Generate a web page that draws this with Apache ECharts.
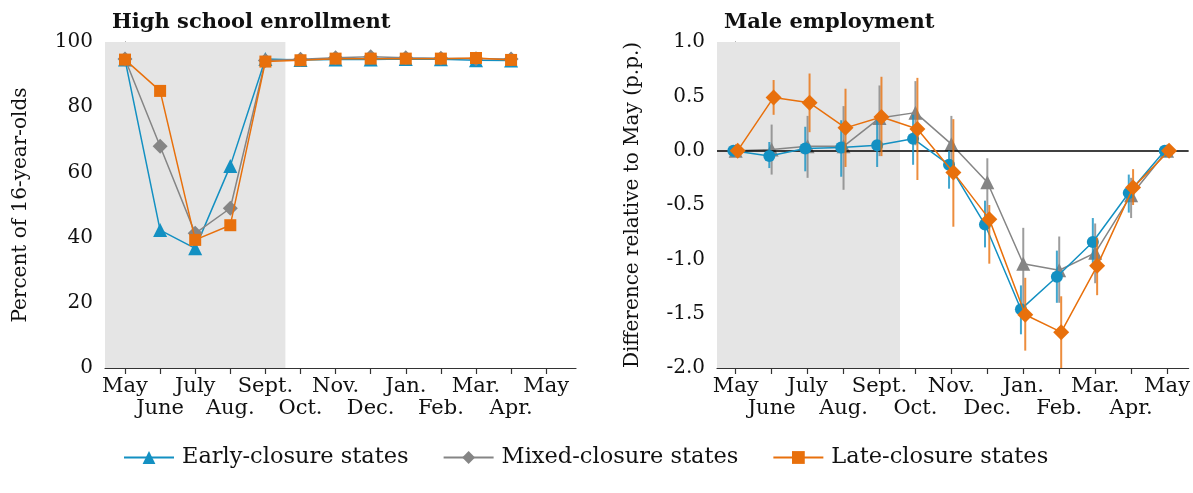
<!DOCTYPE html>
<html>
<head>
<meta charset="utf-8">
<script src="https://cdn.jsdelivr.net/npm/echarts@6/dist/echarts.min.js"></script>
<style>
html,body{margin:0;padding:0;background:#fff;}
#chart{width:1193px;height:493px;}
</style>
</head>
<body>
<div id="chart"></div>
<script>
// ---------- data ----------
const months = ['May','June','July','Aug.','Sept.','Oct.','Nov.','Dec.','Jan.','Feb.','Mar.','Apr.','May'];
const seriesNames = ['Early-closure states','Mixed-closure states','Late-closure states'];

// High school enrollment (percent of 16-year-olds), May .. Apr
const enrollEarly = [94.6, 42.3, 36.7, 62.0, 94.8, 94.5, 94.6, 94.6, 94.8, 94.7, 94.4, 94.3];
const enrollMixed = [94.8, 68.0, 41.3, 49.0, 94.3, 94.7, 95.2, 95.5, 95.2, 95.0, 94.9, 94.8];
const enrollLate  = [94.6, 85.0, 39.3, 43.8, 94.0, 94.4, 94.9, 94.9, 94.9, 94.9, 95.1, 94.5];

// Male employment, difference relative to May (p.p.), May .. May
const empEarly   = [0, -0.05, 0.02, 0.03, 0.05, 0.11, -0.13, -0.68, -1.46, -1.16, -0.84, -0.39, 0];
const empEarlyLo = [null, -0.16, -0.19, -0.24, -0.15, -0.13, -0.35, -0.89, -1.69, -1.40, -1.05, -0.57, null];
const empEarlyHi = [null, 0.08, 0.22, 0.28, 0.30, 0.33, 0.00, -0.46, -1.24, -0.92, -0.62, -0.22, null];

const empMixed   = [0, 0.01, 0.04, 0.04, 0.30, 0.35, 0.06, -0.29, -1.04, -1.10, -0.94, -0.41, 0];
const empMixedLo = [null, -0.22, -0.25, -0.36, -0.05, 0.05, -0.20, -0.62, -1.44, -1.40, -1.22, -0.62, null];
const empMixedHi = [null, 0.24, 0.32, 0.41, 0.60, 0.64, 0.32, -0.07, -0.71, -0.79, -0.67, -0.25, null];

const empLate    = [0, 0.49, 0.44, 0.21, 0.31, 0.20, -0.20, -0.63, -1.51, -1.67, -1.06, -0.34, 0];
const empLateLo  = [null, 0.33, 0.17, -0.15, -0.05, -0.27, -0.70, -1.04, -1.84, -2.05, -1.33, -0.50, null];
const empLateHi  = [null, 0.65, 0.71, 0.57, 0.68, 0.67, 0.29, -0.50, -1.17, -1.34, -0.80, -0.17, null];

const enrollTicks = [0, 20, 40, 60, 80, 100];
const empTicks = [-2.0, -1.5, -1.0, -0.5, 0.0, 0.5, 1.0];

// ---------- styling ----------
const FONT = 'DejaVu Serif';
const colors = ['#1390c2', '#858585', '#e8700c'];
const shadeEnd = 4.57;
const xMinL = -0.57, xMaxL = 12.85;
const xMinR = -0.52, xMaxR = 12.6;
const dodge = [-0.065, 0, 0.055];
const EPS = 1e-7;
const allIdx = () => months.map((m, i) => i + EPS);
const evenIdx = () => months.map((m, i) => i + EPS).filter((v, i) => i % 2 === 0);
const oddIdx = () => months.map((m, i) => i + EPS).filter((v, i) => i % 2 === 1);
const labelStyle = { fontFamily: FONT, fontSize: 21, color: '#111' };

function xAxisMain(gridIndex, min, max) {
  return {
    type: 'value', gridIndex, min, max, position: 'bottom',
    axisLine: { show: true, onZero: false, lineStyle: { color: '#333', width: 1.2 } },
    axisTick: { show: true, customValues: allIdx(), length: 6, lineStyle: { color: '#333', width: 1.2 } },
    axisLabel: Object.assign({
      customValues: evenIdx(), margin: 8, showMinLabel: true, showMaxLabel: true, hideOverlap: false,
      formatter: v => months[Math.round(v)]
    }, labelStyle),
    splitLine: { show: false }
  };
}
function xAxisRow2(gridIndex, min, max) {
  return {
    type: 'value', gridIndex, min, max, position: 'bottom',
    axisLine: { show: false, onZero: false },
    axisTick: { show: false },
    axisLabel: Object.assign({
      customValues: oddIdx(), margin: 30, showMinLabel: true, showMaxLabel: true, hideOverlap: false,
      formatter: v => months[Math.round(v)]
    }, labelStyle),
    splitLine: { show: false }
  };
}

const option = {
  animation: false,
  backgroundColor: '#fff',
  title: [
    { text: 'High school enrollment', left: 107, top: 7,
      textStyle: { fontFamily: FONT, fontWeight: 'bold', fontSize: 21, color: '#111' } },
    { text: 'Male employment', left: 719, top: 7,
      textStyle: { fontFamily: FONT, fontWeight: 'bold', fontSize: 21, color: '#111' } }
  ],
  legend: {
    data: seriesNames,
    left: 118, top: 441,
    itemWidth: 50, itemHeight: 16, itemGap: 34,
    textStyle: { fontFamily: FONT, fontSize: 22.5, color: '#111', padding: [0, 0, 0, 3] }
  },
  grid: [
    { left: 105, top: 42, width: 471, height: 326 },
    { left: 717, top: 42, width: 472, height: 326 }
  ],
  xAxis: [
    xAxisMain(0, xMinL, xMaxL), xAxisMain(1, xMinR, xMaxR),
    xAxisRow2(0, xMinL, xMaxL), xAxisRow2(1, xMinR, xMaxR)
  ],
  yAxis: [
    {
      type: 'value', gridIndex: 0, min: enrollTicks[0], max: enrollTicks[enrollTicks.length - 1], interval: 20,
      name: 'Percent of 16-year-olds', nameLocation: 'middle', nameGap: 74,
      nameTextStyle: { fontFamily: FONT, fontSize: 20, color: '#111' },
      axisLine: { show: true, lineStyle: { color: '#333', width: 1.2 } },
      axisTick: { show: true, length: 6, lineStyle: { color: '#333' } },
      minorTick: { show: true, splitNumber: 2, length: 6, lineStyle: { color: '#333' } },
      axisLabel: { fontFamily: FONT, fontSize: 20, color: '#111', margin: 12 },
      splitLine: { show: false }
    },
    {
      type: 'value', gridIndex: 1, min: empTicks[0], max: empTicks[empTicks.length - 1], interval: 0.5,
      name: 'Difference relative to May (p.p.)', nameLocation: 'middle', nameGap: 74,
      nameTextStyle: { fontFamily: FONT, fontSize: 20, color: '#111' },
      axisLine: { show: true, lineStyle: { color: '#333', width: 1.2 } },
      axisTick: { show: true, length: 6, lineStyle: { color: '#333' } },
      axisLabel: { fontFamily: FONT, fontSize: 20, color: '#111', margin: 12, formatter: v => v.toFixed(1) },
      splitLine: { show: false }
    }
  ],
  series: []
};

// shading
[0, 1].forEach(g => {
  option.series.push({
    type: 'line', xAxisIndex: g, yAxisIndex: g, data: [], silent: true, z: 0,
    markArea: {
      silent: true,
      itemStyle: { color: '#e5e5e5' },
      data: [[{ xAxis: g === 0 ? xMinL : xMinR }, { xAxis: shadeEnd }]]
    }
  });
});

// zero line on right panel
option.series.push({
  type: 'line', xAxisIndex: 1, yAxisIndex: 1, data: [], silent: true, z: 1,
  markLine: {
    silent: true, symbol: 'none', label: { show: false },
    lineStyle: { color: '#000', width: 1.6, type: 'solid' },
    data: [{ yAxis: 0 }]
  }
});

// left panel lines
const enrollData = [enrollEarly, enrollMixed, enrollLate];
const leftSymbols = ['triangle', 'diamond', 'rect'];
const leftSizes = [14, 15, 12];
enrollData.forEach((arr, k) => {
  option.series.push({
    name: seriesNames[k], type: 'line', xAxisIndex: 0, yAxisIndex: 0, z: 3 + k,
    data: arr.map((v, i) => [i, v]),
    symbol: leftSymbols[k], symbolSize: leftSizes[k],
    itemStyle: { color: colors[k] },
    lineStyle: { color: colors[k], width: 1.5 }
  });
});

// right panel: error bars + lines
const empData = [[empEarly, empEarlyLo, empEarlyHi], [empMixed, empMixedLo, empMixedHi], [empLate, empLateLo, empLateHi]];
const rightSymbols = ['circle', 'triangle', 'diamond'];
const rightSizes = [12, 14, 16];
const order = [1, 0, 2];
order.forEach((k, zi) => {
  const [vals, lo, hi] = empData[k];
  const off = dodge[k];
  option.series.push({
    type: 'custom', xAxisIndex: 1, yAxisIndex: 1, z: 3 + zi * 2, clip: true, silent: true,
    data: vals.map((v, i) => [i + off, lo[i], hi[i]]).filter(d => d[1] !== null),
    renderItem: (params, api) => {
      const x = api.value(0);
      const p1 = api.coord([x, api.value(1)]);
      const p2 = api.coord([x, api.value(2)]);
      return {
        type: 'line',
        shape: { x1: p1[0], y1: p1[1], x2: p2[0], y2: p2[1] },
        style: { stroke: colors[k], lineWidth: 2, opacity: 0.8 }
      };
    }
  });
  option.series.push({
    name: seriesNames[k], type: 'line', xAxisIndex: 1, yAxisIndex: 1, z: 4 + zi * 2,
    data: vals.map((v, i) => [i + off, v]),
    symbol: rightSymbols[k], symbolSize: rightSizes[k],
    itemStyle: { color: colors[k] },
    lineStyle: { color: colors[k], width: 1.5 }
  });
});

const chart = echarts.init(document.getElementById('chart'), null, { renderer: 'canvas' });
chart.setOption(option);
</script>
</body>
</html>
